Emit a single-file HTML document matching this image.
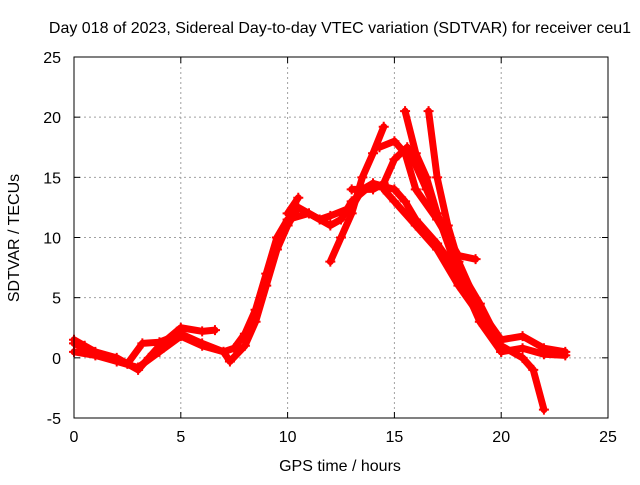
<!DOCTYPE html>
<html><head><meta charset="utf-8"><style>
body{margin:0;background:#fff;width:640px;height:480px;overflow:hidden}
svg{font-family:"Liberation Sans",sans-serif}
</style></head><body>
<svg id="chart" width="640" height="480" viewBox="0 0 640 480" xmlns="http://www.w3.org/2000/svg">
<rect width="640" height="480" fill="#fff"/>
<g id="grid"></g><g id="series"></g><g id="axes"></g>
<text x="340" y="33" font-size="16" text-anchor="middle">Day 018 of 2023, Sidereal Day-to-day VTEC variation (SDTVAR) for receiver ceu1</text>
<text x="340" y="471" font-size="16" text-anchor="middle">GPS time / hours</text>
<text transform="translate(19,238) rotate(-90)" font-size="16" text-anchor="middle">SDTVAR / TECUs</text>
</svg>
<script>
const xTicks=[0,5,10,15,20,25];
const yTicks=[-5,0,5,10,15,20,25];
const trackA=[[0,0.5],[1,0.2],[2,-0.3],[3,-0.8],[4,0.5],[5,1.8],[6,1.0],[7,0.5],[7.5,0.8],[8,2],[8.5,4],[9,7],[9.5,10],[10,11.5],[11,12],[12,11],[12.5,11.5],[13,13],[14,14.5],[15,14],[15.5,13],[16,11.5],[17,9.5],[18,7],[19,4],[19.5,2],[20,0.5],[21,0.8],[22,0.3],[23,0.2]];
const trackB=[[0,1.5],[0.5,1],[1,0.5],[2,0],[3,-1],[3.5,0],[4,1],[5,2.5],[6,2.2],[6.6,2.3]];
const trackC=[[0,1.2],[1,0.3],[2.5,-0.5],[3.2,1.2],[4,1.3],[5,2],[6,1.2],[7,0.5],[7.3,-0.3],[8,1],[8.5,3],[9,6],[9.5,9],[10,11],[10.5,12.5],[11,12],[11.5,11.5],[12,11.8],[13,12.5],[13.5,14],[14,14.5]];
const trackD=[[12,8],[12.5,10],[13,12],[13.5,15],[14,17],[14.5,19.2]];
const trackE=[[14.3,17.5],[15,18],[15.5,17],[16,14],[17,11.5],[18,8.5],[18.8,8.2]];
const trackF=[[15.5,20.5],[16,17],[16.5,15],[17,12],[18,7.5],[19,4.5],[20,1],[21,0],[21.5,-1],[22,-4.3]];
const trackG=[[16.6,20.5],[17,15],[17.5,11],[18,8],[19,4],[20,1.5],[21,1.8],[22,0.8],[23,0.5]];
const trackH=[[13,14],[14,14],[14.5,14.5],[15,16.5],[15.6,17.5],[16,16],[16.5,14],[17,12],[18,7],[19,3],[20,0.5]];
const trackK=[[14.5,14],[15,13],[16,11],[17,9],[18,6],[19,3.5],[20,0.8]];
const trackI=[[10,12],[10.5,13.3]];
const tracks=[trackA,trackB,trackC,trackD,trackE,trackF,trackG,trackH,trackK,trackI];
const X0=74,X1=608,Y0=418,Y1=57;
const sx=v=>X0+(v-0)/(25-0)*(X1-X0);
const sy=v=>Y0-(v+5)/(30)*(Y0-Y1);
const NS="http://www.w3.org/2000/svg";
function mk(t,a,p){const e=document.createElementNS(NS,t);for(const k in a)e.setAttribute(k,a[k]);p.appendChild(e);return e;}
const grid=document.getElementById('grid'),axes=document.getElementById('axes'),ser=document.getElementById('series');
xTicks.forEach(t=>{const x=sx(t);
 if(t>0&&t<25){const g=mk('line',{x1:x,x2:x,y1:Y1,y2:Y0,stroke:'#a0a0a0','stroke-dasharray':'2,3'},grid);
 }
 mk('line',{x1:x,x2:x,y1:Y0,y2:Y0-6,stroke:'#000'},axes);mk('line',{x1:x,x2:x,y1:Y1,y2:Y1+6,stroke:'#000'},axes);
 const l=mk('text',{x:x,y:Y0+24,'font-size':16,'text-anchor':'middle'},axes);l.textContent=t;
 });
yTicks.forEach(t=>{const y=sy(t);
 if(t>-5&&t<25){const g=mk('line',{x1:X0,x2:X1,y1:y,y2:y,stroke:'#a0a0a0','stroke-dasharray':'2,3'},grid);
 }
 mk('line',{x1:X0,x2:X0+6,y1:y,y2:y,stroke:'#000'},axes);mk('line',{x1:X1,x2:X1-6,y1:y,y2:y,stroke:'#000'},axes);
 const l=mk('text',{x:X0-13,y:y+6,'font-size':16,'text-anchor':'end'},axes);l.textContent=t;
 });
const frame=mk('rect',{x:X0,y:Y1,width:X1-X0,height:Y0-Y1,fill:'none',stroke:'#000'},axes);

tracks.forEach(tr=>{
 const p=mk('polyline',{points:tr.map(d=>sx(d[0])+','+sy(d[1])).join(' '),fill:'none',stroke:'#f00','stroke-width':7,'stroke-linejoin':'round','stroke-linecap':'round'},ser);
 
 tr.forEach(d=>{const x=sx(d[0]),y=sy(d[1]);
  const m=mk('path',{d:`M${x-5},${y}H${x+5}M${x},${y-5}V${y+5}`,stroke:'#f00','stroke-width':2},ser);
  });
});
</script>
</body></html>
